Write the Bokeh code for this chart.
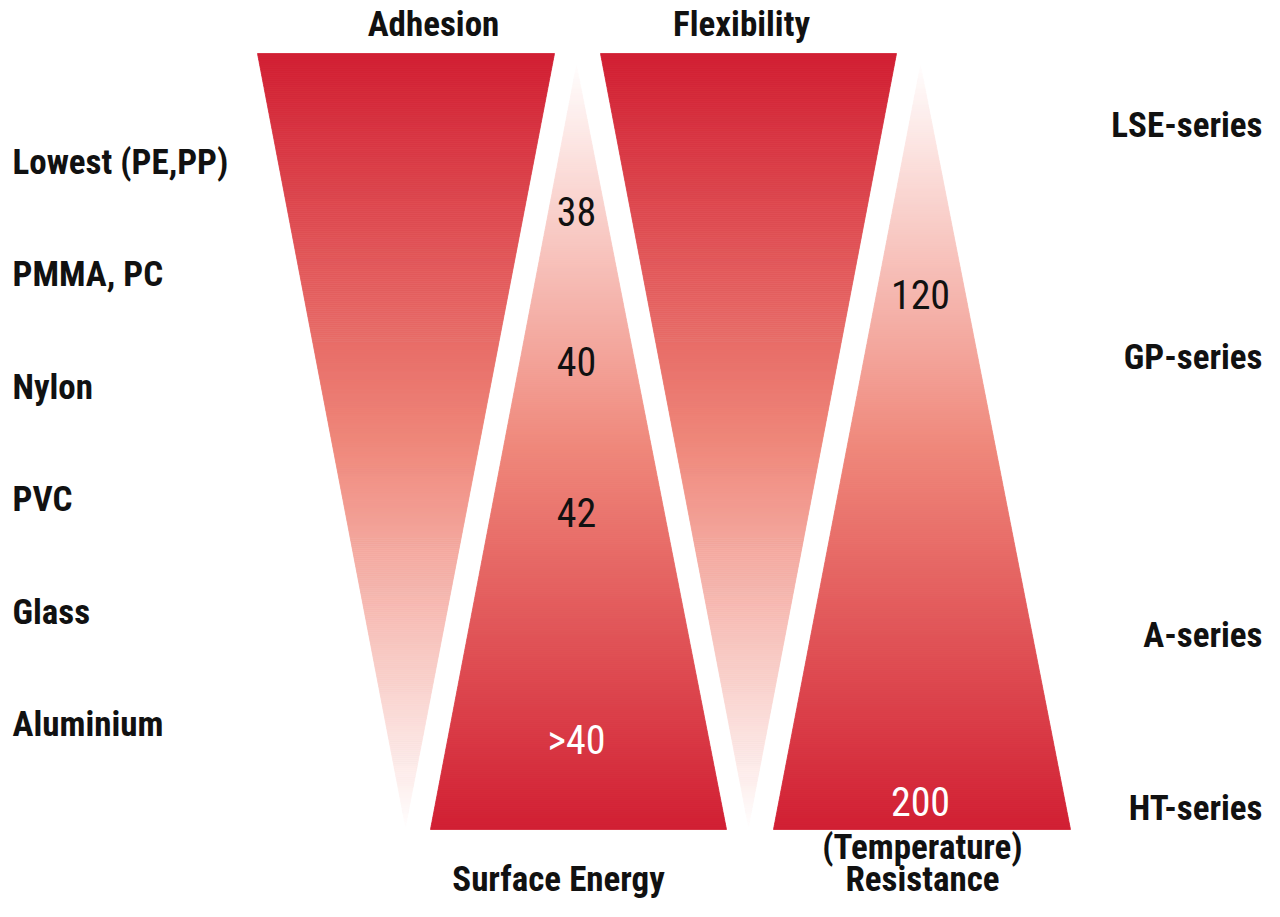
from bokeh.plotting import figure
from bokeh.models import Range1d, ColumnDataSource
from bokeh.core.properties import value
from bokeh.embed import file_html
from bokeh.resources import INLINE

# ---- data ----
materials = ["Lowest (PE,PP)", "PMMA, PC", "Nylon", "PVC", "Glass", "Aluminium"]
series = ["LSE-series", "GP-series", "A-series", "HT-series"]
surface_energy = ["38", "40", "42", ">40"]
temperature = ["120", "200"]
top_titles = ["Adhesion", "Flexibility"]
bottom_titles = ["Surface Energy", "(Temperature)", "Resistance"]

# ---- layout (screen-pixel coordinates) ----
W, H = 1264, 901
FONT = "'Roboto Condensed', 'Liberation Sans Narrow', 'DejaVu Sans Condensed', sans-serif"
LBL = "35px"
NUM = "40px"

p = figure(width=W, height=H, x_range=Range1d(0, W), y_range=Range1d(H, 0),
           output_backend="svg", toolbar_location=None, min_border=0)
p.axis.visible = False
p.grid.visible = False
p.outline_line_color = None
p.background_fill_color = "white"
p.border_fill_color = "white"

RED = (209, 30, 50)
MID = (239, 135, 122)
WHITE = (255, 253, 253)


def grad(t):
    # t = 0 -> red, t = 1 -> white
    if t < 0.5:
        a, b, u = RED, MID, t / 0.5
    else:
        a, b, u = MID, WHITE, (t - 0.5) / 0.5
    c = [int(round(a[i] + (b[i] - a[i]) * u)) for i in range(3)]
    return "#%02x%02x%02x" % tuple(c)


def tri(top_y, bot_y, top_l, top_r, bot_l, bot_r, red_top):
    xs, ys, cols = [], [], []
    n = int((bot_y - top_y) / 2)
    for k in range(n):
        y0 = top_y + (bot_y - top_y) * k / n
        y1 = top_y + (bot_y - top_y) * (k + 1) / n
        f0 = (y0 - top_y) / (bot_y - top_y)
        f1 = (y1 - top_y) / (bot_y - top_y)
        l0 = top_l + (bot_l - top_l) * f0
        r0 = top_r + (bot_r - top_r) * f0
        l1 = top_l + (bot_l - top_l) * f1
        r1 = top_r + (bot_r - top_r) * f1
        fm = (f0 + f1) / 2
        t = fm if red_top else 1 - fm
        xs.append([l0, r0, r1, l1])
        ys.append([y0, y0, y1, y1])
        cols.append(grad(t))
    src = ColumnDataSource(dict(xs=xs, ys=ys, c=cols))
    p.patches("xs", "ys", source=src, fill_color="c", line_color="c", line_width=0.8)


TOP, BOT = 53, 829
# Adhesion (inverted)
tri(TOP, 826, 257, 554, 405, 405, True)
# Surface energy (upright)
tri(65, BOT, 576, 576, 430, 726, False)
# Flexibility (inverted)
tri(TOP, 826, 600, 896, 748, 748, True)
# Temperature resistance (upright)
tri(65, BOT, 920, 920, 773, 1070, False)

common = dict(text_font=value(FONT), text_baseline="middle", text_color="#111111")

# left labels
left_y = [162 + i * 112.4 for i in range(len(materials))]
p.text(x=[12] * len(materials), y=left_y, text=materials, text_font_style="bold",
       text_font_size=LBL, text_align="left", **common)

# right labels
right_y = [125, 357, 635, 808]
p.text(x=[1262] * len(series), y=right_y, text=series, text_font_style="bold",
       text_font_size=LBL, text_align="right", **common)

# top titles
p.text(x=[433, 741], y=[24, 24], text=top_titles, text_font_style="bold",
       text_font_size=LBL, text_align="center", **common)

# bottom titles
p.text(x=[558, 922, 922], y=[879, 847, 879], text=bottom_titles, text_font_style="bold",
       text_font_size=LBL, text_align="center", **common)

# numbers in surface energy triangle
se_y = [211, 361, 512, 740]
p.text(x=[576] * 4, y=se_y, text=surface_energy, text_font=value(FONT),
       text_font_size=NUM, text_baseline="middle", text_align="center",
       text_color=["#111111", "#111111", "#111111", "white"])

# numbers in temperature triangle
p.text(x=[920, 920], y=[294, 801], text=temperature, text_font=value(FONT),
       text_font_size=NUM, text_baseline="middle", text_align="center",
       text_color=["#111111", "white"])

open("out.html", "w").write(file_html(p, INLINE))
